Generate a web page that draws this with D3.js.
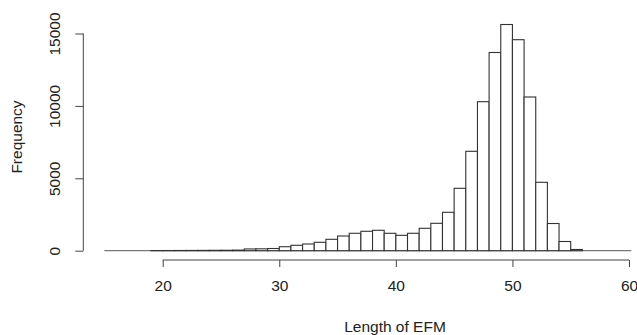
<!DOCTYPE html>
<html>
<head>
<meta charset="utf-8">
<script src="https://cdn.jsdelivr.net/npm/d3@7"></script>
<style>
  html, body { margin: 0; padding: 0; background: #fff; }
  svg { display: block; font-family: "Liberation Sans", Arial, sans-serif; }
</style>
</head>
<body>
<svg id="chart" width="637" height="335"></svg>
<script>
// Bin edges (width 1) and counts
const binStarts = [19,20,21,22,23,24,25,26,27,28,29,30,31,32,33,34,35,36,37,38,39,40,41,42,43,44,45,46,47,48,49,50,51,52,53,54,55];
const counts    = [10,12,15,18,22,26,30,40,120,130,150,276,373,463,580,787,1015,1202,1340,1409,1202,1063,1202,1547,1892,2652,4309,6864,10290,13688,15621,14572,10615,4724,1878,635,83];
const binWidth = 1;
const xTicks = [20, 30, 40, 50, 60];
const yTicks = [0, 5000, 10000, 15000];
const xLabel = "Length of EFM";
const yLabel = "Frequency";

const FS = 15.5;
const svg = d3.select("#chart");
const x = d3.scaleLinear().domain([20, 60]).range([162.7, 629]);
const y = d3.scaleLinear().domain([0, 15000]).range([250.7, 33.5]);

const bins = binStarts.map((s, i) => ({x0: s, x1: s + binWidth, n: counts[i]}));

// baseline
svg.append("line")
  .attr("x1", x(15)).attr("x2", x(60.2))
  .attr("y1", y(0)).attr("y2", y(0))
  .attr("stroke", "#777").attr("stroke-width", 1.2);

// bars
svg.append("g").selectAll("rect").data(bins).join("rect")
  .attr("x", d => x(d.x0))
  .attr("width", d => x(d.x1) - x(d.x0))
  .attr("y", d => y(d.n))
  .attr("height", d => y(0) - y(d.n))
  .attr("fill", "#fff")
  .attr("stroke", "#333")
  .attr("stroke-width", 1.1);

// x axis
const gx = svg.append("g").attr("transform", "translate(0,260)")
  .call(d3.axisBottom(x).tickValues(xTicks).tickSize(7).tickPadding(13).tickFormat(d3.format("d")));
gx.select(".domain").attr("stroke", "#444").attr("d", `M${x(20)},0H${x(60)}`);
gx.selectAll(".tick line").attr("stroke", "#444");
gx.selectAll(".tick text").attr("font-size", FS).attr("fill", "#222")
  .attr("font-family", "Liberation Sans, Arial, sans-serif");

// y axis
const gy = svg.append("g").attr("transform", "translate(83.3,0)")
  .call(d3.axisLeft(y).tickValues(yTicks).tickSize(8).tickFormat(d3.format("d")));
gy.select(".domain").attr("stroke", "#444").attr("d", `M0,${y(0)}V${y(15000)}`);
gy.selectAll(".tick line").attr("stroke", "#444");
gy.selectAll(".tick text")
  .attr("font-size", FS).attr("fill", "#222")
  .attr("font-family", "Liberation Sans, Arial, sans-serif")
  .attr("transform", "rotate(-90)")
  .attr("text-anchor", "middle")
  .attr("x", 0).attr("y", -29).attr("dy", "0.35em");

// axis titles
svg.append("text")
  .attr("x", 395).attr("y", 332)
  .attr("text-anchor", "middle")
  .attr("font-size", FS).attr("fill", "#222")
  .text(xLabel);

svg.append("text")
  .attr("transform", "translate(17,137) rotate(-90)")
  .attr("text-anchor", "middle")
  .attr("dy", "0.35em")
  .attr("font-size", FS).attr("fill", "#222")
  .text(yLabel);
</script>
</body>
</html>
